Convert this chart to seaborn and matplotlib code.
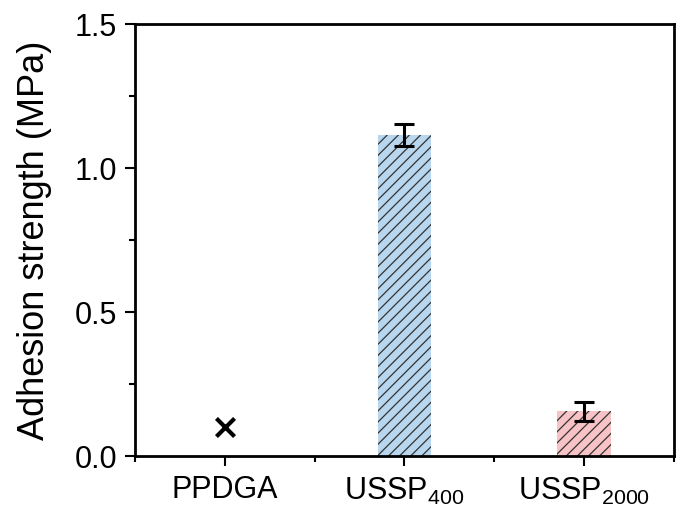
import matplotlib
matplotlib.use("Agg")
import matplotlib.pyplot as plt
from matplotlib.ticker import MultipleLocator, FixedLocator
import seaborn as sns
import pandas as pd

samples = ["PPDGA", "USSP400", "USSP2000"]
tick_labels = ["PPDGA", r"USSP$_\mathregular{400}$", r"USSP$_\mathregular{2000}$"]
bar_samples = ["USSP400", "USSP2000"]
bar_values = [1.115, 0.155]
bar_errors = [0.038, 0.032]
bar_colors = ["#b8d6ee", "#f7c3c7"]
failed_sample = ["PPDGA"]
failed_marker_y = [0.1]

sns.set_theme(style="ticks")
plt.rcParams["font.family"] = ["Liberation Sans", "DejaVu Sans"]
plt.rcParams["mathtext.fontset"] = "custom"
plt.rcParams["mathtext.rm"] = "Liberation Sans"
plt.rcParams["hatch.linewidth"] = 0.9

fig = plt.figure(figsize=(6.98, 5.13), dpi=100)
ax = fig.add_axes([0.1934, 0.1111, 0.7722, 0.8421])

df = pd.DataFrame({"sample": bar_samples, "value": bar_values})
sns.barplot(data=df, x="sample", y="value", order=samples, hue="sample",
            palette=dict(zip(bar_samples, bar_colors)), width=0.3,
            saturation=1, errorbar=None, legend=False, ax=ax)

for patch in ax.patches:
    patch.set_hatch("///")
    patch.set_edgecolor("#333333")
    patch.set_linewidth(0)

ax.errorbar([samples.index(s) for s in bar_samples], bar_values, yerr=bar_errors,
            fmt="none", ecolor="black", elinewidth=2.2, capsize=7, capthick=2.2)

ax.scatter([samples.index(s) for s in failed_sample], failed_marker_y,
           marker="x", s=170, color="black", linewidths=3, zorder=5)

ax.set_xlim(-0.5, 2.5)
ax.set_ylim(0, 1.5)
ax.yaxis.set_major_locator(MultipleLocator(0.5))
ax.yaxis.set_minor_locator(MultipleLocator(0.25))
ax.xaxis.set_minor_locator(FixedLocator([-0.5, 0.5, 1.5, 2.5]))
ax.set_xticks(range(len(samples)))
ax.set_xticklabels(tick_labels)

ax.set_xlabel("")
ax.set_ylabel("Adhesion strength (MPa)", fontsize=26, color="black", labelpad=16)
ax.tick_params(axis="both", which="major", labelsize=22, direction="out",
               length=7, width=1.5, color="black", labelcolor="black")
ax.tick_params(axis="both", which="minor", direction="out", length=4,
               width=1.5, color="black")
ax.tick_params(axis="x", which="major", pad=7)
ax.tick_params(axis="y", which="major", pad=6)

for side in ["left", "right", "top", "bottom"]:
    ax.spines[side].set_visible(True)
    ax.spines[side].set_linewidth(2)
    ax.spines[side].set_color("black")

fig.savefig("out.png", dpi=100)
